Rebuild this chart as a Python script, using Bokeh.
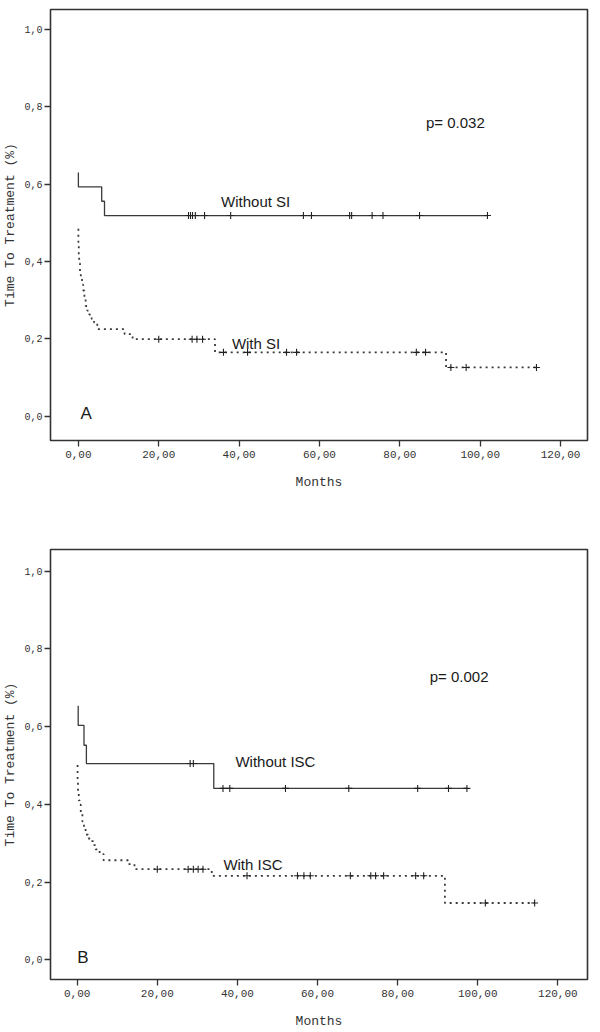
import numpy as np
from bokeh.plotting import figure
from bokeh.models import Label, FixedTicker, Range1d, ColumnDataSource
from bokeh.layouts import column
from bokeh.embed import file_html
from bokeh.resources import INLINE

# ---------------- data ----------------
x_ticks = [0, 20, 40, 60, 80, 100, 120]
x_tick_labels = ["0,00", "20,00", "40,00", "60,00", "80,00", "100,00", "120,00"]
y_ticks = [0.0, 0.2, 0.4, 0.6, 0.8, 1.0]
y_tick_labels = ["0,0", "0,2", "0,4", "0,6", "0,8", "1,0"]

# Panel A - Without SI (solid)
a_wo_start = 0.630
a_wo_times = [0.0, 5.8, 6.5]
a_wo_surv = [0.593, 0.556, 0.519]
a_wo_end = 101.8
a_wo_cens = [27.4, 27.9, 28.4, 29.1, 31.4, 37.9, 56.0, 58.0, 67.5, 68.0,
             73.1, 75.8, 84.9, 101.8]

# Panel A - With SI (dotted)
a_w_start = 0.485
a_w_times = [0.0, 0.1, 0.2, 0.4, 0.6, 0.9, 1.2, 1.5, 1.8, 2.2, 2.7, 3.3,
             3.9, 4.7, 11.5, 13.5, 34.0, 91.5]
a_w_surv = [0.45, 0.42, 0.395, 0.375, 0.358, 0.34, 0.325, 0.305, 0.285,
            0.273, 0.263, 0.252, 0.242, 0.225, 0.212, 0.199, 0.165, 0.126]
a_w_end = 114.0
a_w_cens = [20.0, 28.3, 29.5, 30.9, 36.1, 42.1, 51.8, 54.3, 84.1, 86.4,
            92.7, 96.5, 114.0]

# Panel B - Without ISC (solid)
b_wo_start = 0.654
b_wo_times = [0.25, 1.7, 2.3, 34.1]
b_wo_surv = [0.603, 0.552, 0.505, 0.441]
b_wo_end = 97.3
b_wo_cens = [28.2, 29.0, 36.4, 38.1, 52.0, 67.8, 85.0, 92.7, 97.3]

# Panel B - With ISC (dotted)
b_w_start = 0.501
b_w_times = [0.1, 0.2, 0.4, 0.6, 0.9, 1.3, 1.7, 2.1, 2.7, 3.3, 4.0, 4.6,
             5.6, 6.6, 12.7, 14.3, 33.6, 91.8]
b_w_surv = [0.46, 0.433, 0.41, 0.399, 0.38, 0.356, 0.34, 0.322, 0.312,
            0.305, 0.295, 0.284, 0.272, 0.256, 0.246, 0.233, 0.216, 0.146]
b_w_end = 114.3
b_w_cens = [20.0, 27.7, 29.0, 30.2, 31.4, 42.4, 55.0, 56.6, 58.2, 68.2,
            73.3, 74.5, 76.5, 84.5, 86.5, 101.9, 114.2]

LINE = "#3a3a3a"
TXT = "#1a1a1a"


def step_xy(start, times, surv, end):
    xs = [times[0]]
    ys = [start]
    prev = start
    for t, s in zip(times, surv):
        xs += [t, t]
        ys += [prev, s]
        prev = s
    xs.append(end)
    ys.append(prev)
    return xs, ys


def surv_at(ts, start, times, surv):
    out = []
    for t in ts:
        idx = int(np.searchsorted(times, t, side="right"))
        out.append(start if idx == 0 else surv[idx - 1])
    return out


def add_curve(p, start, times, surv, end, cens, dash):
    xs, ys = step_xy(start, times, surv, end)
    src = ColumnDataSource(dict(x=xs, y=ys))
    if dash:
        p.line("x", "y", source=src, line_color=LINE, line_width=1.8,
               line_dash="2 4")
    else:
        p.line("x", "y", source=src, line_color=LINE, line_width=1.3)
    csrc = ColumnDataSource(dict(x=cens, y=surv_at(cens, start, times, surv)))
    p.scatter("x", "y", source=csrc, marker="cross", size=7,
              line_color="#222222", line_width=1.1)


def make_panel(height, mb_top, mb_bottom, mb_left, mb_right, xr, yr, label_standoff):
    p = figure(width=600, height=height,
               x_range=Range1d(*xr), y_range=Range1d(*yr),
               output_backend="svg", toolbar_location=None,
               min_border_top=mb_top, min_border_bottom=mb_bottom,
               min_border_left=mb_left, min_border_right=mb_right)
    p.xgrid.visible = False
    p.ygrid.visible = False
    p.outline_line_color = "#333333"
    p.outline_line_width = 1.6
    p.outline_line_alpha = 1.0
    p.background_fill_color = "white"
    p.border_fill_color = "white"

    xa = p.xaxis[0]
    ya = p.yaxis[0]
    xa.ticker = FixedTicker(ticks=x_ticks)
    xa.major_label_overrides = dict(zip(x_ticks, x_tick_labels))
    ya.ticker = FixedTicker(ticks=y_ticks)
    ya.major_label_overrides = dict(zip(y_ticks, y_tick_labels))
    xa.axis_label = "Months"
    ya.axis_label = "Time To Treatment (%)"
    for ax in (xa, ya):
        ax.axis_line_color = None
        ax.major_tick_in = 0
        ax.minor_tick_line_color = None
        ax.major_tick_line_color = "#333333"
        ax.major_tick_line_width = 1.3
        ax.major_label_text_font = "Liberation Mono"
        ax.major_label_text_color = "#333333"
        ax.axis_label_text_font = "Liberation Mono"
        ax.axis_label_text_font_style = "normal"
        ax.axis_label_text_color = "#333333"
    xa.major_tick_out = 6
    ya.major_tick_out = 6
    xa.major_label_text_font_size = "11px"
    ya.major_label_text_font_size = "10px"
    xa.major_label_standoff = 4
    ya.major_label_standoff = 2
    xa.axis_label_text_font_size = "13px"
    ya.axis_label_text_font_size = "13px"
    xa.axis_label_standoff = label_standoff
    ya.axis_label_standoff = 3
    return p


def add_text(p, x, y, text, size="15px"):
    p.add_layout(Label(x=x, y=y, text=text, text_font="Liberation Sans",
                       text_font_size=size, text_color=TXT,
                       text_align="left", text_baseline="middle"))


# ---------------- panel A ----------------
pa = make_panel(495, 9, 55, 48, 13, (-6.94, 126.7), (-0.063, 1.052), 14)
add_curve(pa, a_wo_start, a_wo_times, a_wo_surv, a_wo_end, a_wo_cens, False)
add_curve(pa, a_w_start, a_w_times, a_w_surv, a_w_end, a_w_cens, True)
add_text(pa, 35.5, 0.555, "Without SI")
add_text(pa, 38.2, 0.187, "With SI")
add_text(pa, 86.5, 0.760, "p= 0.032")
add_text(pa, 0.5, 0.008, "A", "17px")

# ---------------- panel B ----------------
pb = make_panel(536, 54, 48, 49, 6, (-6.66, 127.4), (-0.051, 1.056), 14)
add_curve(pb, b_wo_start, b_wo_times, b_wo_surv, b_wo_end, b_wo_cens, False)
add_curve(pb, b_w_start, b_w_times, b_w_surv, b_w_end, b_w_cens, True)
add_text(pb, 39.5, 0.511, "Without ISC")
add_text(pb, 36.5, 0.246, "With ISC")
add_text(pb, 88.0, 0.730, "p= 0.002")
add_text(pb, 0.0, 0.005, "B", "17px")

layout = column(pa, pb, spacing=0)
open("out.html", "w").write(file_html(layout, INLINE))
